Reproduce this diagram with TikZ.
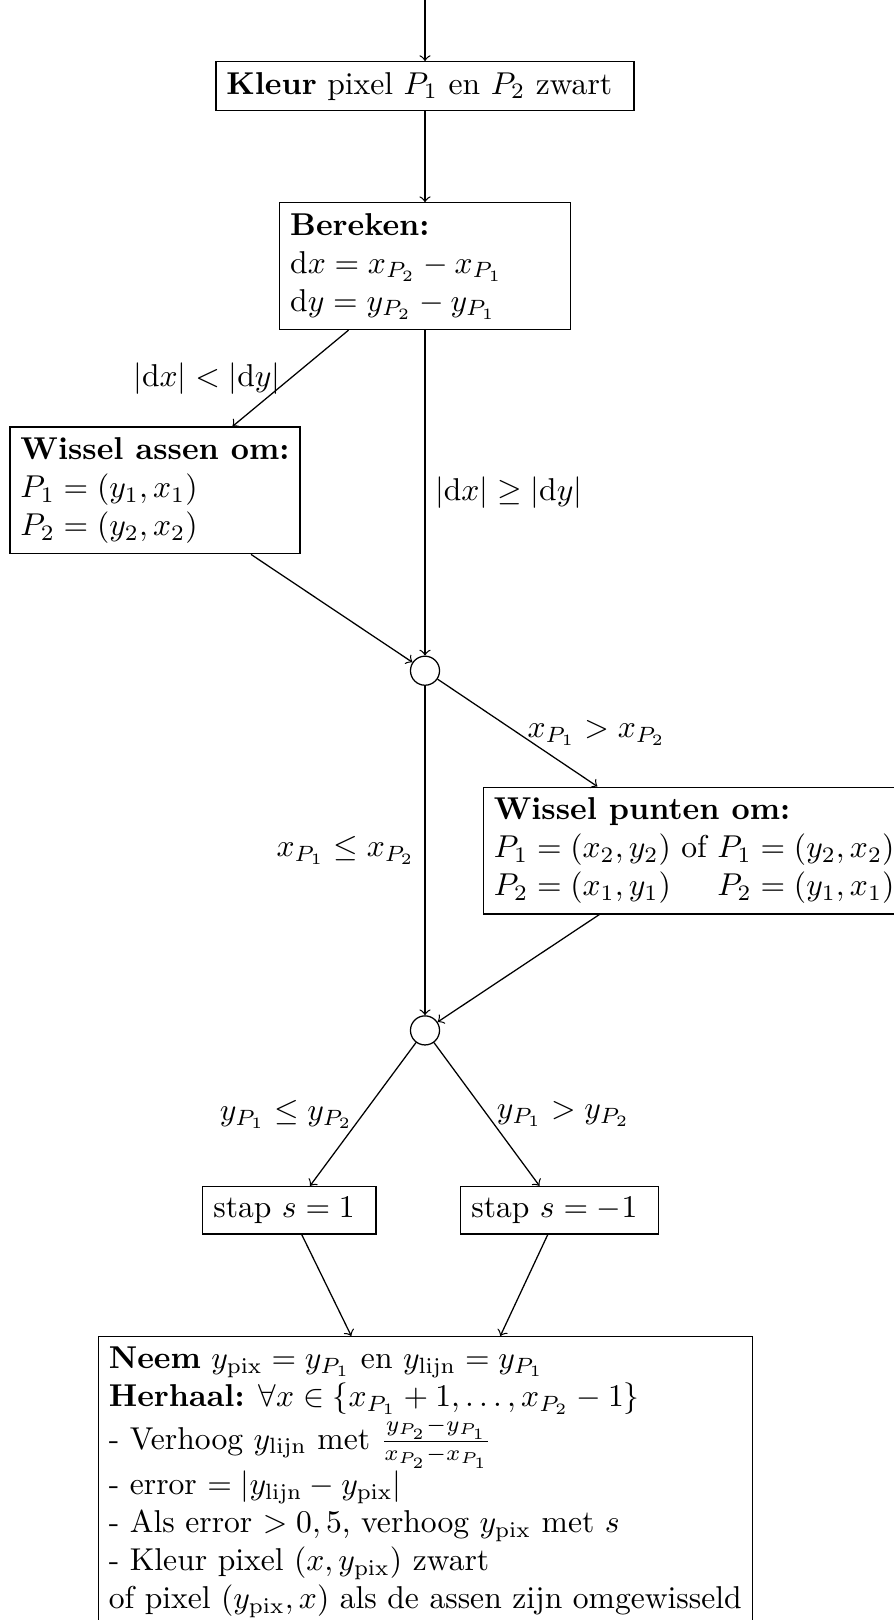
\documentclass[tikz,border=0pt]{standalone}
\usetikzlibrary{calc}
\begin{document}
\begin{tikzpicture}[x=0.31646pt, y=-0.31646pt,
  box/.style={draw, align=left, line width=0.4pt},
  junction/.style={draw, circle, minimum size=9.2pt, inner sep=0pt},
  flow/.style={->, line width=0.4pt},
  lbl/.style={inner sep=3pt}]
\useasboundingbox (0,0) rectangle (894,1620);

\coordinate (start) at (425,0);
\node[box] (b1) at (425,86.3) {\textbf{Kleur} pixel $P_1$ en $P_2$ zwart\hspace*{3.6pt}};
\node[box, text width=85.3pt] (b2) at (425,266.2) {\textbf{Bereken:}\\ $\mathrm{d}x = x_{P_2} - x_{P_1}$\\ $\mathrm{d}y = y_{P_2} - y_{P_1}$};
\node[box] (b3) at (155,490.4) {\textbf{Wissel assen om:}\\ $P_1 = (y_1, x_1)$\\ $P_2 = (y_2, x_2)$};
\node[junction] (c1) at (425,670.7) {};
\node[box, anchor=west] (b4) at (482.6,850.5) {\textbf{Wissel punten om:}\\ $P_1 = (x_2, y_2)$ of $P_1 = (y_2, x_2)$\\ \makebox[0pt][l]{$P_2 = (x_1, y_1)$}\phantom{$P_1 = (x_2, y_2)$ of} $P_2 = (y_1, x_1)$};
\node[junction] (c2) at (425,1030.4) {};
\node[box] (b5) at (289.4,1210.3) {stap $s = 1$\hspace*{3.4pt}};
\node[box] (b6) at (559.7,1210.3) {stap $s = -1$\hspace*{3.4pt}};
\node[box, anchor=north] (fin) at (425.3,1336) {\textbf{Neem} $y_{\mathrm{pix}} = y_{P_1}$ en $y_{\mathrm{lijn}} = y_{P_1}$\\
\textbf{Herhaal:} $\forall x \in \{x_{P_1}+1, \ldots, x_{P_2}-1\}$\\
- Verhoog $y_{\mathrm{lijn}}$ met $\frac{y_{P_2}-y_{P_1}}{x_{P_2}-x_{P_1}}$\\
- error $= |y_{\mathrm{lijn}} - y_{\mathrm{pix}}|$\\
- Als error $> 0,5$, verhoog $y_{\mathrm{pix}}$ met $s$\\
- Kleur pixel $(x, y_{\mathrm{pix}})$ zwart\\
of pixel $(y_{\mathrm{pix}}, x)$ als de assen zijn omgewisseld};

\draw[flow] (start) -- (b1);
\draw[flow] (b1) -- (b2);
\draw[flow] ($(b2.south)+(-76.5,0)$) -- node[lbl, midway, left] {$|\mathrm{d}x| < |\mathrm{d}y|$} ($(b3.north)+(77.5,0)$);
\draw[flow] (b2.south) -- node[lbl, midway, right] {$|\mathrm{d}x| \geq |\mathrm{d}y|$} (c1);
\draw[flow] ($(b3.south)+(96,0)$) -- (c1);
\draw[flow] (c1) -- node[lbl, midway, right] {$x_{P_1} > x_{P_2}$} ($(b4.north west)+(114.8,0)$);
\draw[flow] (c1) -- node[lbl, midway, left] {$x_{P_1} \leq x_{P_2}$} (c2);
\draw[flow] ($(b4.south west)+(116.8,0)$) -- (c2);
\draw[flow] (c2) -- node[lbl, midway, left] {$y_{P_1} \leq y_{P_2}$} ($(b5.north)+(20.6,0)$);
\draw[flow] (c2) -- node[lbl, midway, right] {$y_{P_1} > y_{P_2}$} ($(b6.north)+(-20.2,0)$);
\draw[flow] ($(b5.south)+(12.4,0)$) -- ($(fin.north)+(-74,0)$);
\draw[flow] ($(b6.south)+(-12,0)$) -- ($(fin.north)+(75,0)$);
\end{tikzpicture}
\end{document}
